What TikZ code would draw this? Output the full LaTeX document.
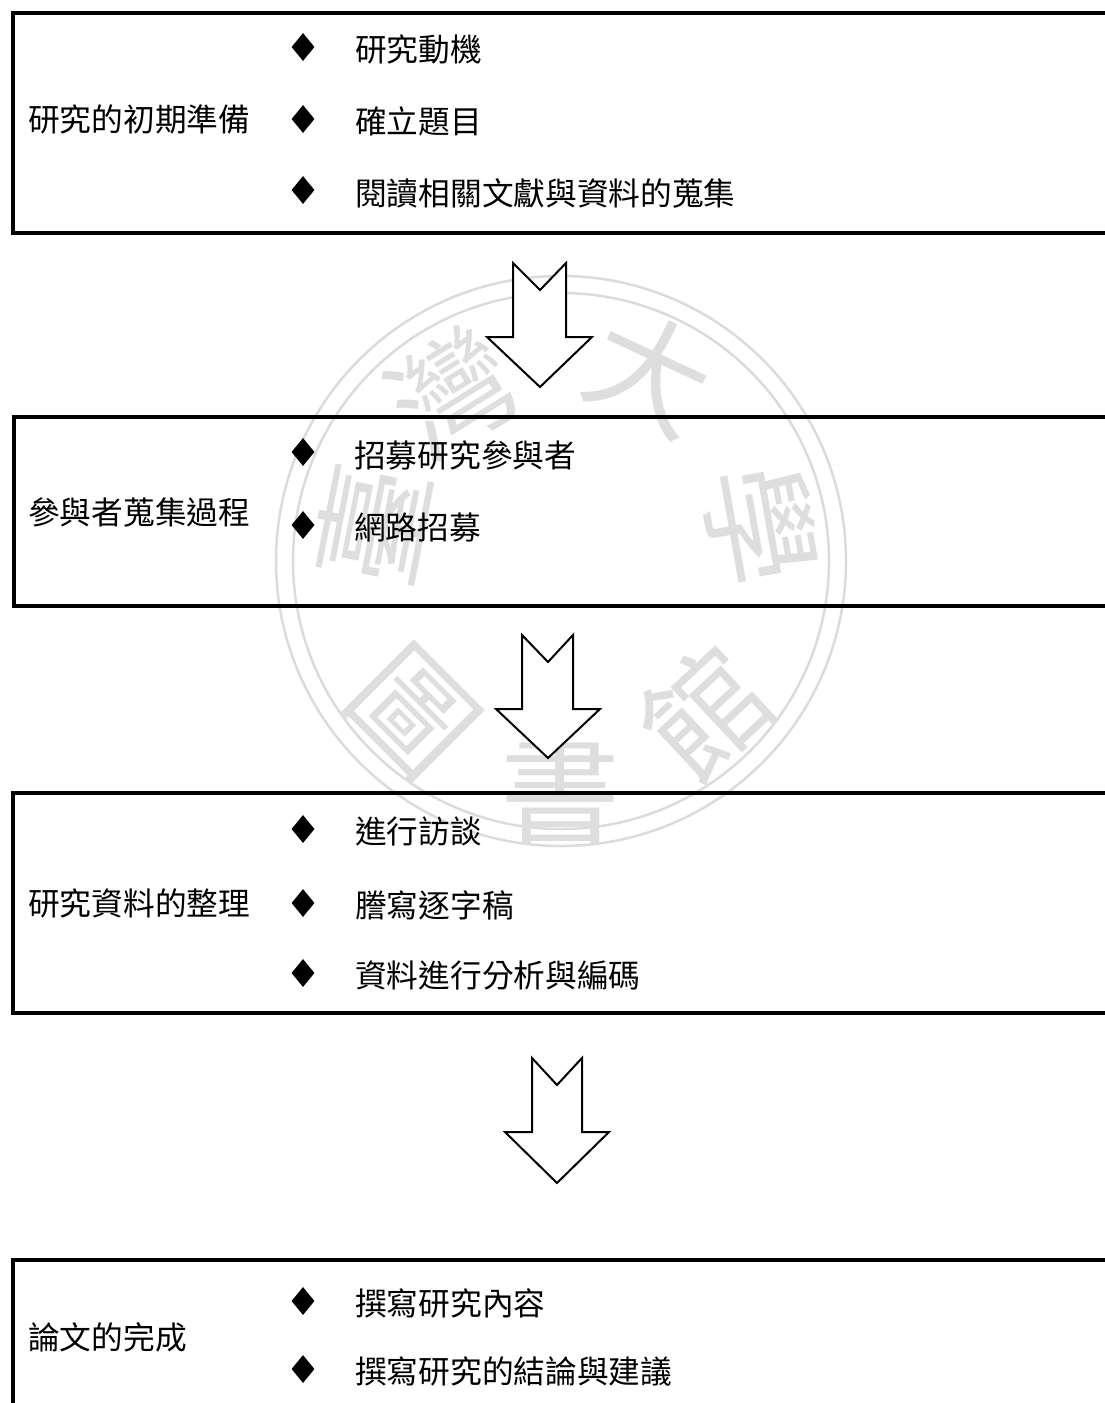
\documentclass[tikz,border=0pt]{standalone}
\usepackage{fontspec}
\usetikzlibrary{shapes.geometric}
\newfontfamily\cjk{Noto Sans CJK TC}
\tikzset{
  boxline/.style={line width=4pt, black},
  blockarrow/.style={line width=2pt, black, fill=white, line join=miter},
  lbl/.style={font=\cjk\fontsize{31.7}{31.7}\selectfont, inner sep=0pt, anchor=west},
  itm/.style={font=\cjk\fontsize{31.7}{31.7}\selectfont, inner sep=0pt, anchor=west},
  bul/.style={diamond, fill=black, inner sep=0pt, minimum width=23pt, minimum height=28pt},
  wm/.style={font=\cjk\fontsize{120}{120}\selectfont, text=black!13, inner sep=0pt},
  wmring/.style={draw=black!14, line width=2.5pt}
}
\begin{document}
\begin{tikzpicture}[x=1pt,y=-1pt]
\useasboundingbox (0,0) rectangle (1105,1403);
% watermark
\coordinate (wc) at (561,561);
\draw[wmring] (wc) circle[radius=285];
\draw[wmring] (wc) circle[radius=268];
\node[wm, rotate=79] (w1) at (372,525) {臺};
\node[wm, rotate=32] (w2) at (452,392) {灣};
\node[wm, rotate=-25] (w3) at (650,372) {大};
\node[wm, rotate=-80] (w4) at (760,525) {學};
\node[wm, rotate=43] (w5) at (705,712) {館};
\node[wm, rotate=0] (w6) at (560,790) {書};
\node[wm, rotate=-45] (w7) at (412,712) {圖};
% boxes
\draw[boxline] (1130,13) -- (13,13) -- (13,233) -- (1130,233);
\draw[boxline] (1130,416.5) -- (14,416.5) -- (14,606) -- (1130,606);
\draw[boxline] (1130,793) -- (13,793) -- (13,1013) -- (1130,1013);
\draw[boxline] (1130,1259.5) -- (13,1259.5) -- (13,1420);
% box 1
\node[lbl] (l1) at (28,119) {研究的初期準備};
\node[bul] (d11) at (303,47) {};
\node[itm] (t11) at (355,49) {研究動機};
\node[bul] (d12) at (303,119) {};
\node[itm] (t12) at (355,121) {確立題目};
\node[bul] (d13) at (303,190) {};
\node[itm] (t13) at (355,193) {閱讀相關文獻與資料的蒐集};
% box 2
\node[lbl] (l2) at (28,513) {參與者蒐集過程};
\node[bul] (d21) at (303,452) {};
\node[itm] (t21) at (354,455) {招募研究參與者};
\node[bul] (d22) at (303,525) {};
\node[itm] (t22) at (354,527) {網路招募};
% box 3
\node[lbl] (l3) at (28,903) {研究資料的整理};
\node[bul] (d31) at (303,829) {};
\node[itm] (t31) at (355,831) {進行訪談};
\node[bul] (d32) at (303,903) {};
\node[itm] (t32) at (355,905) {謄寫逐字稿};
\node[bul] (d33) at (303,973) {};
\node[itm] (t33) at (355,975) {資料進行分析與編碼};
% box 4
\node[lbl] (l4) at (28,1337) {論文的完成};
\node[bul] (d41) at (303,1301) {};
\node[itm] (t41) at (355,1303) {撰寫研究內容};
\node[bul] (d42) at (303,1369) {};
\node[itm] (t42) at (355,1371) {撰寫研究的結論與建議};
% block arrows
\draw[blockarrow] (513,263) -- (540,290) -- (566,263) -- (566,337) -- (592,337) -- (540,387) -- (487,337) -- (513,337) -- cycle;
\draw[blockarrow] (522,635) -- (548,662) -- (573,635) -- (573,709) -- (600,709) -- (548,758) -- (496,709) -- (522,709) -- cycle;
\draw[blockarrow] (532,1058) -- (557,1085) -- (582,1058) -- (582,1132) -- (609,1132) -- (557,1183) -- (505,1132) -- (532,1132) -- cycle;
\end{tikzpicture}
\end{document}
